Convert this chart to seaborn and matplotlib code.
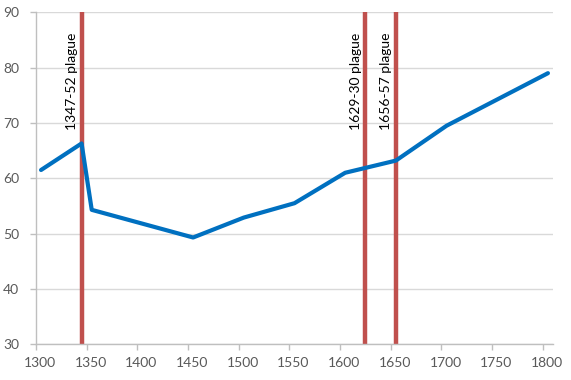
#!/usr/bin/env python3
"""Line chart of values 1300-1800 with plague years marked."""

import matplotlib.pyplot as plt
import matplotlib.transforms as mtransforms
import pandas as pd
import seaborn as sns

years = [1305, 1345, 1355, 1455, 1505, 1555, 1605, 1655, 1705, 1805]
values = [61.5, 66.3, 54.3, 49.3, 52.9, 55.5, 61.0, 63.2, 69.5, 79.0]

plague_years = [1345, 1625, 1655]
plague_labels = ["1347-52 plague", "1629-30 plague", "1656-57 plague"]

x_ticks = list(range(1300, 1801, 50))
y_ticks = list(range(30, 91, 10))

sns.set_theme(style="white")
plt.rcParams["font.family"] = ["Lato", "DejaVu Sans"]

BLUE = "#0070C0"
RED = "#C0504D"
GREY_TXT = "#595959"
GRID = "#D9D9D9"
AXIS = "#BFBFBF"


def main() -> None:
    df = pd.DataFrame({"year": years, "value": values})

    fig = plt.figure(figsize=(5.71, 3.80), dpi=100)
    ax = fig.add_axes([0.063, 0.094, 0.9055, 0.8736])

    for yv in y_ticks:
        ax.axhline(yv, color=GRID, linewidth=1, zorder=0)

    for yr, lab in zip(plague_years, plague_labels):
        ax.axvline(yr, color=RED, linewidth=3.2, zorder=2)
        ax.annotate(
            lab,
            xy=(yr, 1.0),
            xycoords=("data", "axes fraction"),
            xytext=(-7, -14.5),
            textcoords="offset points",
            rotation=90,
            ha="center",
            va="top",
            fontsize=10,
            color="black",
        )

    sns.lineplot(data=df, x="year", y="value", ax=ax, color=BLUE,
                 linewidth=3, zorder=3)

    ax.set_xlim(1300, 1810)
    ax.set_ylim(30, 90)
    ax.set_xticks(x_ticks)
    ax.set_yticks(y_ticks)
    ax.set_xlabel("")
    ax.set_ylabel("")

    for side in ("top", "right"):
        ax.spines[side].set_visible(False)
    for side in ("left", "bottom"):
        ax.spines[side].set_color(AXIS)
        ax.spines[side].set_linewidth(1)

    ax.tick_params(axis="both", which="major", direction="out", length=4,
                   width=1, color=AXIS, labelcolor=GREY_TXT, labelsize=10)
    ax.tick_params(axis="x", bottom=True, pad=5)
    ax.tick_params(axis="y", left=True, pad=8)

    shift = mtransforms.ScaledTranslation(4 / 100, 0, fig.dpi_scale_trans)
    for lbl in ax.get_xticklabels():
        lbl.set_transform(lbl.get_transform() + shift)

    fig.savefig("out.png", dpi=100)
    plt.close(fig)


if __name__ == "__main__":
    main()
